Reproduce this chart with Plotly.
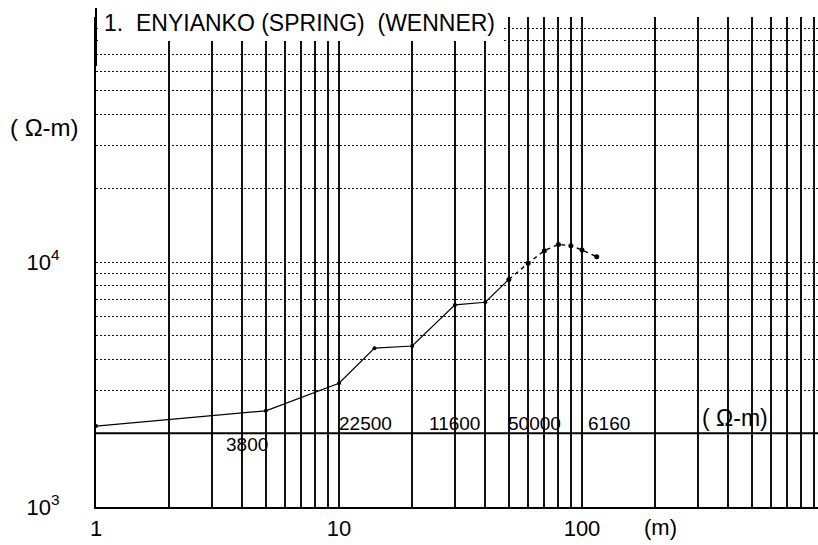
import numpy as np
import plotly.graph_objects as go

# Apparent resistivity sounding curve (Wenner array)
spacing_m = [1, 5, 10, 14, 20, 30, 40, 50]
rho_app = [2140, 2470, 3200, 4450, 4540, 6680, 6850, 8490]
spacing_tail_m = [50, 60, 70, 80, 90, 100, 115]
rho_tail = [8490, 9880, 11120, 11800, 11660, 11190, 10510]

# Interpreted layer resistivities (ohm-m)
layer_rho = [3800, 22500, 11600, 50000, 6160]

# axis tick labels
x_tick_vals = [1, 10, 100]
x_tick_text = ["1", "10", "100"]
y_tick_vals = [1000, 10000]
y_tick_text = ["10<sup>3</sup>", "10<sup>4</sup>"]

# layout helpers (positions of the layer labels along the spacing axis)
layer_label_x = [4.18, 12.8, 30, 64, 129]
layer_label_shift = [-11, 10, 10, 10, 10]
separator_rho = 2000

W, H = 818, 545
L, R, T, B = 96, 0, 17, 38
plot_w, plot_h = W - L - R, H - T - B
x_range = [0, plot_w / 243.0]
y_range = [3, 5]

# log-paper grid lines (the horizontal ones stop at the separator)
x_minor = [d * 10 ** k for k in range(3) for d in range(2, 10)]
y_minor = [d * 10 ** k for k in (3, 4) for d in range(2, 10)] + [100000]

BASE_FONT = "Liberation Sans, Arial, Helvetica, sans-serif"


def px_x(p):
    return (p - L) / plot_w


def px_y(p):
    return (H - B - p) / plot_h


fig = go.Figure()

fig.add_trace(go.Scatter(
    x=spacing_m, y=rho_app, mode="lines+markers",
    line=dict(color="black", width=1.2),
    marker=dict(color="black", size=4),
    hoverinfo="x+y",
))
fig.add_trace(go.Scatter(
    x=spacing_tail_m, y=rho_tail, mode="lines+markers",
    line=dict(color="black", width=1.4, dash="4px,4px"),
    marker=dict(color="black", size=5),
    hoverinfo="x+y",
))

shapes = [
    # separator under the layer resistivities
    dict(type="line", xref="paper", x0=0, x1=1, yref="y", y0=separator_rho, y1=separator_rho,
         line=dict(color="black", width=2.2), layer="above"),
    # blank panel behind the title
    dict(type="rect", xref="paper", x0=0.004, x1=px_x(502), yref="paper", y0=px_y(41), y1=px_y(0),
         fillcolor="white", line=dict(width=0), layer="above"),
    dict(type="line", xref="paper", x0=0, x1=0, yref="paper", y0=0.9, y1=px_y(8),
         line=dict(color="black", width=2), layer="above"),
]

annotations = [
    dict(text="1.&nbsp; ENYIANKO (SPRING)&nbsp; (WENNER)", xref="paper", yref="paper",
         x=px_x(102), y=px_y(23), xanchor="left", yanchor="middle", showarrow=False,
         font=dict(family=BASE_FONT, size=23, color="black")),
    dict(text="( \u03a9-m)", xref="paper", yref="paper", x=px_x(45), y=px_y(127),
         xanchor="center", yanchor="middle", showarrow=False,
         font=dict(family=BASE_FONT, size=24, color="black")),
    dict(text="(m)", xref="paper", yref="paper", x=px_x(660), y=px_y(527),
         xanchor="center", yanchor="middle", showarrow=False,
         font=dict(family=BASE_FONT, size=22, color="black")),
    dict(text="( \u03a9-m)", xref="x", yref="y", x=np.log10(426), y=np.log10(separator_rho),
         yshift=15, xanchor="center", yanchor="middle", showarrow=False,
         font=dict(family=BASE_FONT, size=23, color="black")),
]
for v, xp, sh in zip(layer_rho, layer_label_x, layer_label_shift):
    annotations.append(dict(
        text=str(v), xref="x", yref="y", x=np.log10(xp), y=np.log10(separator_rho),
        yshift=sh, xanchor="center", yanchor="middle", showarrow=False,
        font=dict(family=BASE_FONT, size=19, color="black"),
    ))

fig.update_layout(
    width=W, height=H,
    margin=dict(l=L, r=R, t=T, b=B, pad=0),
    paper_bgcolor="white", plot_bgcolor="white",
    showlegend=False,
    font=dict(family=BASE_FONT, size=22, color="black"),
    shapes=shapes, annotations=annotations,
    xaxis=dict(
        type="log", range=x_range,
        tickmode="array", tickvals=x_tick_vals, ticktext=x_tick_text,
        showgrid=True, gridcolor="#111111", gridwidth=1.8,
        minor=dict(tickmode="array", tickvals=x_minor, showgrid=True,
                   gridcolor="#111111", gridwidth=1.8, ticks=""),
        showline=True, linecolor="black", linewidth=2,
        ticks="", zeroline=False, ticklabelstandoff=1,
        tickfont=dict(size=22),
    ),
    yaxis=dict(
        type="log", range=y_range,
        tickmode="array", tickvals=y_tick_vals, ticktext=y_tick_text,
        showgrid=True, gridcolor="#111111", gridwidth=1.2, griddash="2px,2px",
        minor=dict(tickmode="array", tickvals=y_minor, showgrid=True,
                   gridcolor="#111111", gridwidth=1.2, griddash="2px,2px", ticks=""),
        showline=True, linecolor="black", linewidth=2,
        ticks="", zeroline=False, ticklabelstandoff=30,
        tickfont=dict(size=22),
    ),
)

fig.write_html("out.html")
